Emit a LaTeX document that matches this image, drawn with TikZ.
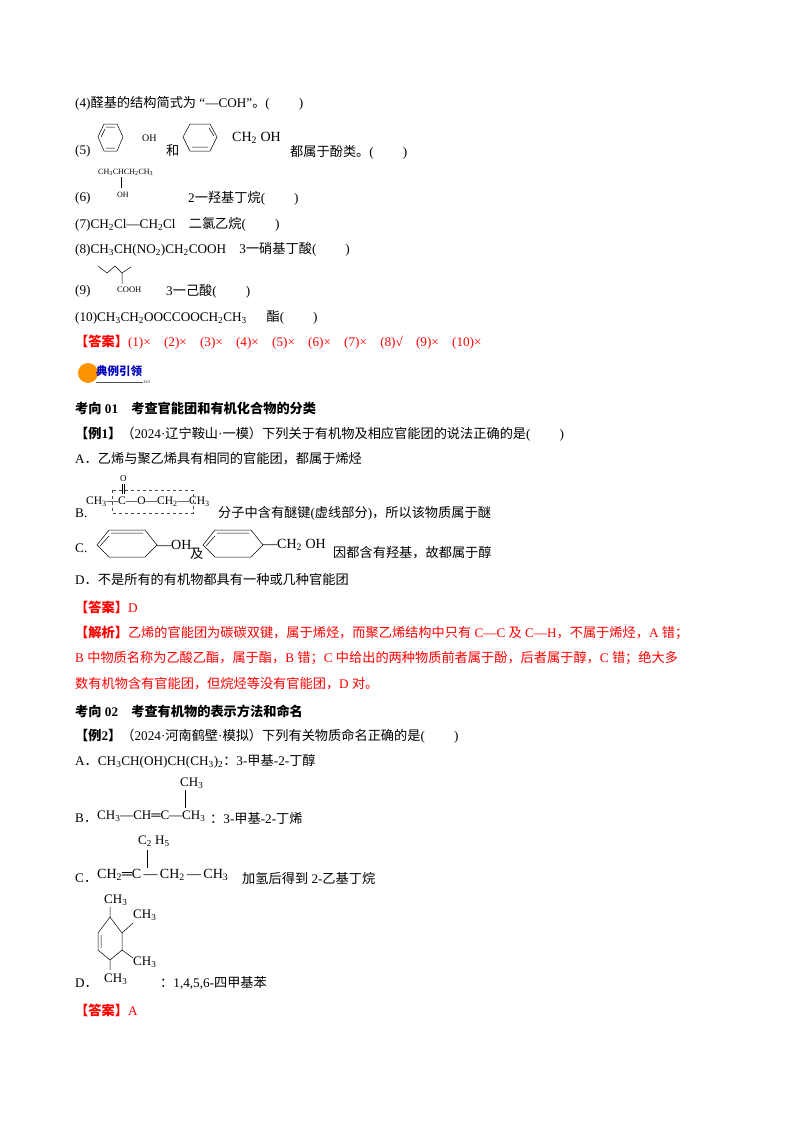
\documentclass[tikz,border=0pt]{standalone}
\usepackage{fontspec}
\setmainfont{Liberation Serif}
\newfontfamily\cjk{Noto Sans CJK SC}
\XeTeXinterchartokenstate=1
\newXeTeXintercharclass\cjkclass
\count255="4E00
\loop\XeTeXcharclass\count255=\cjkclass\advance\count255 1 \ifnum\count255<"A000\repeat
\count255="3000
\loop\XeTeXcharclass\count255=\cjkclass\advance\count255 1 \ifnum\count255<"3040\repeat
\count255="FF00
\loop\XeTeXcharclass\count255=\cjkclass\advance\count255 1 \ifnum\count255<"FF60\repeat
\XeTeXinterchartoks 0 \cjkclass={\cjk}
\XeTeXinterchartoks 4095 \cjkclass={\cjk}
\XeTeXinterchartoks \cjkclass 0={\rmfamily}
\XeTeXinterchartoks \cjkclass 4095={\rmfamily}
\newcommand{\s}[1]{\textsubscript{#1}}
\begin{document}
\begin{tikzpicture}[x=1pt,y=-1pt,
  t/.style={anchor=west,inner sep=0pt,font=\fontsize{13.2}{14}\selectfont},
  sm/.style={anchor=west,inner sep=0pt,font=\fontsize{9}{10}\selectfont},
  ch/.style={anchor=west,inner sep=0pt,font=\fontsize{13}{14}\selectfont},
  red/.style={t,text=red},
  bd/.style={t,font=\fontsize{13.2}{14}\selectfont\bfseries},
  bond/.style={line width=0.5pt}]
\useasboundingbox (0,0) rectangle (800,1132);
\fill[white] (0,0) rectangle (800,1132);
\node[t] (l4) at (75,103) {(4)醛基的结构简式为 “—COH”。(\hspace{2.2em})};
% (5)
\node[t] (l5) at (75,151) {(5)};
\draw[bond] (98,137)--(104,124)--(117,124)--(123,137)--(117,151)--(104,151)--cycle;
\draw[bond] (106,127)--(115,127) (106,148)--(115,148) (101,137)--(105,129);
\node[sm,font=\fontsize{10}{11}\selectfont] (oh1) at (142,138) {OH};
\node[t] (he) at (166,151) {和};
\draw[bond] (183,137)--(190,124)--(210,124)--(217,137)--(210,151)--(190,151)--cycle;
\draw[bond] (209,128)--(214,136) (192,147)--(208,147);
\node[ch,font=\fontsize{14}{15}\selectfont] (ch2oh) at (232,138) {CH\s{2} OH};
\node[t] (l5b) at (290,152) {都属于酚类。(\hspace{2.2em})};
% (6)
\node[sm,font=\fontsize{8}{9}\selectfont] (c6) at (98,172) {CH\s{3}CHCH\s{2}CH\s{3}};
\draw[bond] (121,177)--(121,188);
\node[sm,font=\fontsize{8}{9}\selectfont] (oh6) at (117,195) {OH};
\node[t] (l6) at (75,198) {(6)};
\node[t] (l6b) at (188,198) {2一羟基丁烷(\hspace{2.2em})};
\node[t] (l7) at (75,224) {(7)CH\s{2}Cl—CH\s{2}Cl\quad 二氯乙烷(\hspace{2.2em})};
\node[t] (l8) at (75,249) {(8)CH\s{3}CH(NO\s{2})CH\s{2}COOH\quad 3一硝基丁酸(\hspace{2.2em})};
% (9)
\draw[bond] (98,266)--(107,273)--(115,266)--(122,273)--(131,267) (122,273)--(122,284);
\node[sm,font=\fontsize{8.5}{9}\selectfont] (cooh) at (117,290) {COOH};
\node[t] (l9) at (75,291) {(9)};
\node[t] (l9b) at (166,291) {3一己酸(\hspace{2.2em})};
\node[t] (l10) at (75,317) {(10)CH\s{3}CH\s{2}OOCCOOCH\s{2}CH\s{3}\quad\ \ 酯(\hspace{2.2em})};
\node[red] (ans1) at (75,342) {\textbf{【答案】}(1)×\ \ \ \ (2)×\ \ \ \ (3)×\ \ \ \ (4)×\ \ \ \ (5)×\ \ \ \ (6)×\ \ \ \ (7)×\ \ \ \ (8)√\ \ \ \ (9)×\ \ \ \ (10)×};
% badge
\fill[orange!85!yellow] (88,373) circle (10);
\node[anchor=west,inner sep=0pt,font=\fontsize{11.5}{12}\selectfont\bfseries,text=blue!75!black] (badge) at (96,371) {典例引领};
\draw[black!70,line width=0.6pt] (96,382)--(143,382);
\node[anchor=west,inner sep=0pt,font=\fontsize{4}{4}\selectfont] (tk) at (144,382) {II:3};
\node[bd] (k1) at (75,408) {考向 01\quad 考查官能团和有机化合物的分类};
\node[t] (e1) at (75,434) {\textbf{【例1】}（2024·辽宁鞍山·一模）下列关于有机物及相应官能团的说法正确的是(\hspace{2.2em})};
\node[t] (a1) at (75,459) {A．乙烯与聚乙烯具有相同的官能团，都属于烯烃};
% B
\node[sm] (bo) at (120,479) {O};
\draw[bond] (122.5,484)--(122.5,494) (124.5,484)--(124.5,494);
\node[sm,font=\fontsize{11.5}{12}\selectfont] (bchain) at (86,502) {CH\s{3}—C—O—CH\s{2}—CH\s{3}};
\draw[dashed,line width=0.4pt,black!70] (112,490) rectangle (193,513);
\node[t] (b1l) at (75,513) {B.};
\node[t] (b1) at (218,513) {分子中含有醚键(虚线部分)，所以该物质属于醚};
% C
\node[t] (c1l) at (75,548) {C.};
\draw[bond] (97,545)--(109,530)--(145,530)--(157,545)--(145,557)--(109,557)--cycle;
\draw[bond] (111,533)--(143,533) (100,546)--(109,536);
\node[ch,font=\fontsize{14}{15}\selectfont] (ohc) at (157,545) {—OH};
\node[t] (ji) at (190,554) {及};
\draw[bond] (203,545)--(215,530)--(251,530)--(263,545)--(251,557)--(215,557)--cycle;
\draw[bond] (217,533)--(249,533) (206,546)--(215,536);
\node[ch,font=\fontsize{14}{15}\selectfont] (ch2ohc) at (263,545) {—CH\s{2} OH};
\node[t] (c1) at (333,553) {因都含有羟基，故都属于醇};
\node[t] (d1) at (75,579) {D．不是所有的有机物都具有一种或几种官能团};
\node[red] (ans2) at (75,607) {\textbf{【答案】}D};
\node[red] (j1) at (75,633) {\textbf{【解析】}乙烯的官能团为碳碳双键，属于烯烃，而聚乙烯结构中只有 C—C 及 C—H，不属于烯烃，A 错；};
\node[red] (j2) at (75,658) {B 中物质名称为乙酸乙酯，属于酯，B 错；C 中给出的两种物质前者属于酚，后者属于醇，C 错；绝大多};
\node[red] (j3) at (75,684) {数有机物含有官能团，但烷烃等没有官能团，D 对。};
\node[bd] (k2) at (75,711) {考向 02\quad 考查有机物的表示方法和命名};
\node[t] (e2) at (75,736) {\textbf{【例2】}（2024·河南鹤壁·模拟）下列有关物质命名正确的是(\hspace{2.2em})};
\node[t] (a2) at (75,761) {A．CH\s{3}CH(OH)CH(CH\s{3})\s{2}：3-甲基-2-丁醇};
% B2
\node[ch] (b2t) at (180,783) {CH\s{3}};
\draw[bond] (185,790)--(185,808);
\node[t] (b2l) at (75,818) {B．};
\node[ch] (b2c) at (97,816) {CH\s{3}—CH═C—CH\s{3}};
\node[t] (b2) at (210,818) {：3-甲基-2-丁烯};
% C2
\node[ch] (c2t) at (138,841) {C\s{2} H\s{5}};
\draw[bond] (147,850)--(147,868);
\node[t] (c2l) at (75,878) {C．};
\node[ch,font=\fontsize{14}{15}\selectfont] (c2c) at (97,875) {CH\s{2}═C\,—\,CH\s{2}\,—\,CH\s{3}};
\node[t] (c2) at (242,878) {加氢后得到 2-乙基丁烷};
% D2
\draw[bond] (110,917)--(122,933)--(122,950)--(110,960)--(98,950)--(98,933)--cycle;
\draw[bond] (101,935)--(101,948) (110,917)--(110,907) (122,933)--(133,923) (122,950)--(133,958) (110,960)--(110,970);
\node[ch] (m1) at (104,900) {CH\s{3}};
\node[ch] (m2) at (133,915) {CH\s{3}};
\node[ch] (m3) at (133,962) {CH\s{3}};
\node[ch] (m4) at (104,979) {CH\s{3}};
\node[t] (d2l) at (75,983) {D．};
\node[t] (d2) at (160,983) {：1,4,5,6-四甲基苯};
\node[red] (ans3) at (75,1010) {\textbf{【答案】}A};
\end{tikzpicture}
\end{document}
